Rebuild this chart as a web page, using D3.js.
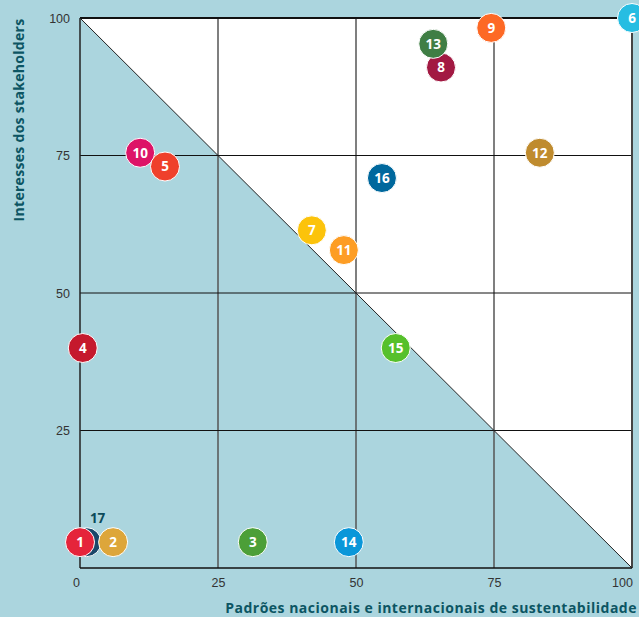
<!DOCTYPE html>
<html>
<head>
<meta charset="utf-8">
<script src="https://cdn.jsdelivr.net/npm/d3@7/dist/d3.min.js"></script>
<style>
  body { margin: 0; background: #abd5de; }
  svg { display: block; font-family: "Open Sans", "Noto Sans", sans-serif; }
</style>
</head>
<body>
<script>
// ODS (objetivos) e posicao na matriz
let ids = [17, 1, 2, 3, 14, 4, 15, 10, 5, 7, 11, 16, 12, 8, 13, 9, 6];
let padroes = [1.2, 0, 6, 31.3, 48.7, 0.5, 57.2, 10.9, 15.4, 42, 47.8, 54.7, 83.3, 65.4, 64, 74.5, 100];
let interesses = [4.7, 4.7, 4.7, 4.7, 4.7, 40, 40, 75.5, 73, 61.4, 57.8, 70.9, 75.5, 91, 95.3, 98.2, 100];
let cores = ["#19486a", "#e5243b", "#dda63a", "#4c9f38", "#0a97d9", "#c5192d", "#56c02b", "#dd1367",
             "#ef402b", "#fcc30b", "#fd9d24", "#00689d", "#bf8b2e", "#a21942", "#3f7e44", "#fd6925", "#26bde2"];
let ticks = [0, 25, 50, 75, 100];

let W = 639, H = 617;
let svg = d3.select("body").append("svg").attr("width", W).attr("height", H);

let x = d3.scaleLinear().domain([0, 100]).range([80, 632]);
let y = d3.scaleLinear().domain([0, 100]).range([568, 18]);

// area branca acima da diagonal
svg.append("path")
  .attr("d", `M${x(0)},${y(100)}L${x(100)},${y(100)}L${x(100)},${y(0)}Z`)
  .attr("fill", "#fff");

// grade
svg.append("g").selectAll("line").data([25, 50, 75]).enter().append("line")
  .attr("x1", d => x(d)).attr("x2", d => x(d))
  .attr("y1", y(100)).attr("y2", y(0))
  .attr("stroke", "#555").attr("stroke-width", 1.5);
svg.append("g").selectAll("line").data([25, 50, 75]).enter().append("line")
  .attr("x1", x(0)).attr("x2", x(100))
  .attr("y1", d => y(d)).attr("y2", d => y(d))
  .attr("stroke", "#111").attr("stroke-width", 1);

// diagonal
svg.append("line")
  .attr("x1", x(0)).attr("y1", y(100)).attr("x2", x(100)).attr("y2", y(0))
  .attr("stroke", "#222").attr("stroke-width", 1);

// bordas
svg.append("line").attr("x1", x(0)).attr("x2", x(100)).attr("y1", y(100)).attr("y2", y(100))
  .attr("stroke", "#111").attr("stroke-width", 2);
svg.append("line").attr("x1", x(100)).attr("x2", x(100)).attr("y1", y(100)).attr("y2", y(0))
  .attr("stroke", "#444").attr("stroke-width", 2);
svg.append("line").attr("x1", x(0)).attr("x2", x(0)).attr("y1", y(100)).attr("y2", y(0))
  .attr("stroke", "#222").attr("stroke-width", 1.5);
svg.append("line").attr("x1", x(0)).attr("x2", x(100)).attr("y1", y(0)).attr("y2", y(0))
  .attr("stroke", "#111").attr("stroke-width", 1.5);

// eixos (so rotulos)
let ax = svg.append("g").attr("transform", `translate(0,${y(0)})`)
  .call(d3.axisBottom(x).tickValues(ticks).tickSize(0).tickPadding(10));
ax.select(".domain").remove();
ax.selectAll("text").attr("fill", "#333").style("font-size", "12.5px")
  .attr("dx", d => d == 0 ? -4 : d == 100 ? -10 : 0);

let ay = svg.append("g").attr("transform", `translate(${x(0)},0)`)
  .call(d3.axisLeft(y).tickValues(ticks.slice(1)).tickSize(0).tickPadding(10));
ay.select(".domain").remove();
ay.selectAll("text").attr("fill", "#333").style("font-size", "12.5px");

// titulos
svg.append("text")
  .attr("x", 637).attr("y", 613)
  .attr("text-anchor", "end")
  .attr("fill", "#0c5563").style("font-weight", "bold").style("font-size", "14px")
  .style("letter-spacing", "0.5px")
  .text("Padrões nacionais e internacionais de sustentabilidade");

svg.append("text")
  .attr("transform", "translate(24,120) rotate(-90)")
  .attr("text-anchor", "middle")
  .attr("fill", "#0c5563").style("font-weight", "bold").style("font-size", "14px")
  .style("letter-spacing", "0.3px")
  .text("Interesses dos stakeholders");

// bolhas
let pts = ids.map((id, i) => ({ id: id, px: padroes[i], py: interesses[i], cor: cores[i] }));
let g = svg.append("g").selectAll("g").data(pts).enter().append("g")
  .attr("transform", d => `translate(${x(d.px)},${y(d.py)})`);
g.append("circle").attr("r", 14.5).attr("fill", d => d.cor)
  .attr("stroke", "#fff").attr("stroke-width", 1);
g.filter(d => d.id != 17).append("text")
  .attr("text-anchor", "middle").attr("dy", "0.36em")
  .attr("fill", "#fff").style("font-weight", "bold").style("font-size", "13.5px")
  .text(d => d.id);
g.filter(d => d.id == 17).append("text")
  .attr("x", 11).attr("y", -19)
  .attr("text-anchor", "middle")
  .attr("fill", "#0c4a5a").style("font-weight", "bold").style("font-size", "13.5px")
  .text(d => d.id);
</script>
</body>
</html>
